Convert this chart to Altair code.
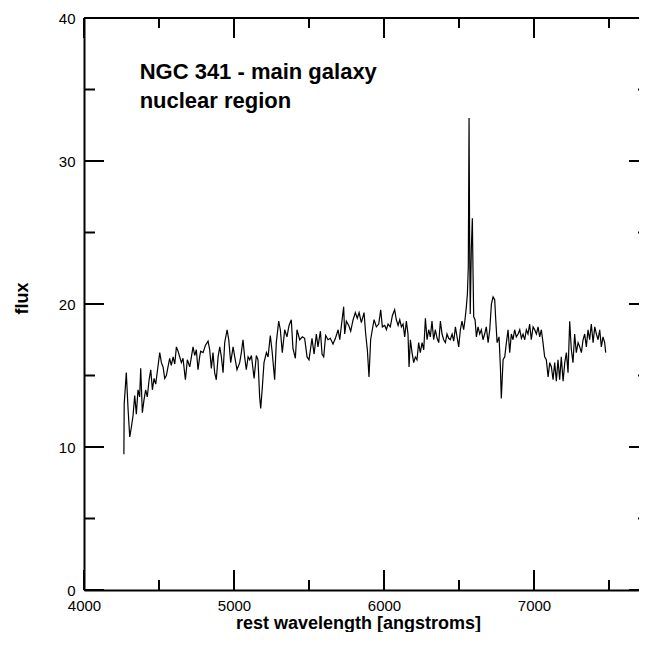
import altair as alt
import pandas as pd

# ---- spectrum (rest wavelength in angstroms, flux) ----
wavelength = [
    4266, 4268, 4282, 4294, 4305, 4316, 4327, 4338, 4349, 4360, 4371, 4378, 4389, 4400, 4411, 4422,
    4434, 4445, 4456, 4467, 4478, 4494, 4505, 4516, 4527, 4538, 4549, 4560, 4571, 4582, 4594, 4605,
    4616, 4627, 4638, 4649, 4660, 4676, 4689, 4705, 4716, 4727, 4738, 4749, 4760, 4771, 4778, 4794,
    4809, 4827, 4838, 4849, 4860, 4871, 4882, 4894, 4905, 4916, 4927, 4938, 4954, 4965, 4978, 4994,
    5005, 5020, 5038, 5049, 5060, 5071, 5082, 5094, 5105, 5116, 5134, 5149, 5160, 5171, 5178, 5189,
    5200, 5216, 5227, 5242, 5254, 5271, 5282, 5298, 5309, 5322, 5338, 5353, 5367, 5382, 5393, 5409,
    5420, 5438, 5456, 5471, 5487, 5500, 5520, 5534, 5549, 5560, 5576, 5587, 5598, 5611, 5627, 5642,
    5660, 5676, 5694, 5705, 5716, 5731, 5738, 5749, 5765, 5778, 5794, 5809, 5822, 5834, 5849, 5867,
    5878, 5889, 5900, 5911, 5922, 5934, 5949, 5965, 5978, 5989, 6005, 6016, 6027, 6042, 6056, 6071,
    6082, 6094, 6105, 6116, 6127, 6138, 6149, 6160, 6167, 6176, 6187, 6198, 6209, 6220, 6231, 6242,
    6254, 6265, 6276, 6287, 6298, 6309, 6320, 6331, 6342, 6354, 6365, 6376, 6387, 6398, 6409, 6420,
    6431, 6442, 6454, 6465, 6476, 6487, 6498, 6509, 6520, 6531, 6540, 6549, 6556, 6562, 6567, 6571,
    6575, 6582, 6589, 6593, 6598, 6607, 6616, 6627, 6638, 6649, 6660, 6671, 6682, 6694, 6705, 6716,
    6727, 6738, 6745, 6754, 6767, 6776, 6782, 6794, 6805, 6816, 6827, 6838, 6849, 6860, 6871, 6882,
    6894, 6905, 6916, 6927, 6938, 6949, 6960, 6971, 6982, 6994, 7005, 7016, 7027, 7038, 7049, 7060,
    7071, 7082, 7094, 7105, 7116, 7127, 7138, 7149, 7160, 7171, 7182, 7194, 7205, 7216, 7227, 7238,
    7249, 7260, 7271, 7282, 7294, 7305, 7316, 7327, 7338, 7349, 7360, 7371, 7382, 7394, 7405, 7416,
    7427, 7438, 7449, 7460, 7471, 7478,
]
flux = [
    9.5, 13.0, 15.2, 12.6, 10.7, 11.4, 12.2, 13.6, 12.3, 14.0, 13.5, 15.5, 12.4, 13.3, 14.0, 13.5,
    14.7, 15.4, 14.0, 14.8, 14.4, 15.7, 16.6, 15.9, 15.6, 14.8, 15.0, 15.6, 16.2, 15.7, 16.3, 15.8,
    17.0, 16.7, 16.3, 15.9, 16.2, 14.7, 16.1, 15.6, 16.3, 17.0, 16.4, 16.8, 15.4, 16.3, 16.7, 16.6,
    17.1, 17.4, 16.8, 15.5, 16.6, 15.2, 14.7, 16.3, 17.0, 16.3, 15.2, 17.3, 18.2, 17.5, 15.9, 17.0,
    16.3, 15.4, 15.9, 16.6, 17.5, 16.3, 15.4, 16.3, 16.1, 16.4, 14.8, 16.4, 16.1, 13.5, 12.7, 14.2,
    15.9, 16.6, 16.3, 17.8, 16.7, 14.7, 17.3, 18.8, 18.2, 16.6, 18.2, 17.7, 18.5, 18.9, 16.9, 16.2,
    18.2, 17.5, 17.7, 17.6, 16.3, 16.1, 17.6, 16.5, 17.9, 17.0, 18.1, 16.5, 16.3, 17.8, 17.5, 17.6,
    17.2, 17.6, 18.2, 17.5, 18.5, 19.8, 17.9, 18.8, 18.5, 18.1, 18.9, 19.4, 19.0, 19.4, 18.7, 19.4,
    17.9, 16.8, 14.9, 17.5, 18.2, 18.9, 18.4, 18.6, 19.6, 18.4, 18.5, 18.2, 18.6, 18.4, 19.2, 19.6,
    18.9, 18.5, 18.9, 18.4, 18.6, 17.7, 18.8, 17.9, 15.6, 17.5, 16.6, 15.9, 16.3, 16.1, 17.3, 16.6,
    17.3, 16.8, 19.0, 17.5, 18.2, 17.7, 18.8, 17.5, 18.2, 17.6, 17.3, 18.8, 17.9, 17.5, 17.3, 17.9,
    17.6, 17.5, 17.9, 17.4, 18.4, 17.7, 17.0, 18.2, 18.8, 18.2, 18.9, 19.8, 20.7, 22.6, 33.0, 24.0,
    19.3, 23.8, 26.0, 22.6, 19.1, 18.9, 17.7, 18.4, 17.9, 18.2, 17.5, 17.9, 18.4, 17.3, 18.2, 20.0,
    20.5, 20.3, 18.9, 17.3, 17.7, 15.6, 13.4, 16.1, 16.3, 17.3, 18.2, 16.6, 17.9, 17.5, 18.2, 17.7,
    17.9, 18.2, 17.6, 17.9, 17.5, 18.2, 17.9, 18.6, 17.5, 18.4, 18.2, 17.9, 18.4, 17.7, 18.2, 17.3,
    16.3, 16.1, 14.9, 15.9, 15.6, 14.7, 15.9, 14.6, 16.1, 14.7, 16.3, 14.6, 15.9, 16.6, 15.2, 18.8,
    16.8, 15.9, 17.9, 16.6, 17.3, 17.0, 16.6, 17.5, 17.9, 17.0, 18.2, 17.5, 18.6, 17.3, 18.4, 17.9,
    17.5, 18.2, 17.0, 17.7, 17.3, 16.6,
]

# ---- axes ----
x_major = [4000, 5000, 6000, 7000]
x_minor = [4500, 5500, 6500, 7500]
y_major = [0, 10, 20, 30, 40]
y_minor = [5, 15, 25, 35]
x_domain = [4000, 7700]
y_domain = [0, 40]

# ---- annotation ----
note_text = ["NGC 341 - main galaxy", "nuclear region"]
note_wl = [4371, 4371]
note_flux = [35.73, 33.69]

W, H = 555, 572
FONT = "Liberation Sans"

xs = alt.Scale(domain=x_domain, nice=False, zero=False)
ys = alt.Scale(domain=y_domain, nice=False)
x_axis = alt.Axis(
    values=x_major, format="d", ticks=False, grid=False, labelFlush=False,
    labelPadding=8, title="rest wavelength [angstroms]",
    titleX=274, titleY=38, titleBaseline="alphabetic")
y_axis = alt.Axis(
    values=y_major, format="d", ticks=False, grid=False,
    labelPadding=9, title="flux",
    titleX=-57, titleY=280, titleAngle=270, titleBaseline="alphabetic")

spec_df = pd.DataFrame({"wl": wavelength, "flux": flux})
spectrum = alt.Chart(spec_df).mark_line(color="black", strokeWidth=1.2).encode(
    x=alt.X("wl:Q", scale=xs, axis=x_axis),
    y=alt.Y("flux:Q", scale=ys, axis=y_axis),
)


def vdf(vals):
    return pd.DataFrame({"wl": vals, "flux": vals})


def yticks(vals, x1, x2, w):
    return alt.Chart(vdf(vals)).mark_rule(color="black", strokeWidth=w).encode(
        y=alt.Y("flux:Q", scale=ys, axis=y_axis), x=alt.value(x1), x2=alt.value(x2))


def xticks(vals, y1, y2, w):
    return alt.Chart(vdf(vals)).mark_rule(color="black", strokeWidth=w).encode(
        x=alt.X("wl:Q", scale=xs, axis=x_axis), y=alt.value(y1), y2=alt.value(y2))


R = W + 10  # right frame lies just outside the visible window
ticks = [
    yticks(y_major, 0, 20, 2), yticks(y_minor, 0, 11, 2),
    yticks(y_major, R, R - 20, 2), yticks(y_minor, R, R - 11, 2),
    xticks(x_major, H, H - 20, 2), xticks(x_minor, H, H - 10, 2),
    xticks(x_major, 0, 20, 2), xticks(x_minor, 0, 10, 2),
]

top_line = alt.Chart(vdf([0])).mark_rule(color="black", strokeWidth=2).encode(
    x=alt.value(0), x2=alt.value(R), y=alt.value(0))

note_df = pd.DataFrame({"t": note_text, "wl": note_wl, "flux": note_flux})
note = alt.Chart(note_df).mark_text(
    align="left", baseline="alphabetic", font=FONT, fontWeight="bold", fontSize=22, color="black"
).encode(x=alt.X("wl:Q", scale=xs, axis=x_axis), y=alt.Y("flux:Q", scale=ys, axis=y_axis), text="t:N")

chart = alt.layer(spectrum, note, *ticks, top_line).properties(
    width=W, height=H,
    autosize=alt.AutoSizeParams(type="none"),
    padding={"left": 76, "top": 10, "right": 0, "bottom": 42},
).configure_view(stroke=None).configure_axis(
    domainColor="black", domainWidth=2,
    labelFont=FONT, labelFontSize=15, labelColor="black",
    titleFont=FONT, titleFontSize=18, titleFontWeight="bold", titleColor="black",
)

chart.save("out.html", embed_options={"renderer": "svg", "actions": False})
